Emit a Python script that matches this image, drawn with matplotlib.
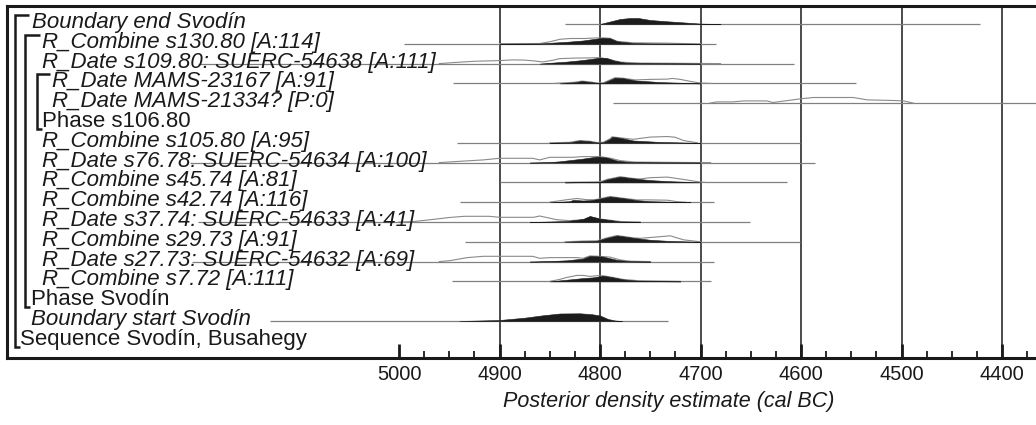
import matplotlib
matplotlib.use('Agg')
import matplotlib.pyplot as plt
import numpy as np

plt.rcParams['font.family'] = ['Liberation Sans', 'DejaVu Sans']

# ---------------- data ----------------
labels = [
    'Boundary end Svodín',
    'R_Combine s130.80 [A:114]',
    'R_Date s109.80: SUERC-54638 [A:111]',
    'R_Date MAMS-23167 [A:91]',
    'R_Date MAMS-21334? [P:0]',
    'Phase s106.80',
    'R_Combine s105.80 [A:95]',
    'R_Date s76.78: SUERC-54634 [A:100]',
    'R_Combine s45.74 [A:81]',
    'R_Combine s42.74 [A:116]',
    'R_Date s37.74: SUERC-54633 [A:41]',
    'R_Combine s29.73 [A:91]',
    'R_Date s27.73: SUERC-54632 [A:69]',
    'R_Combine s7.72 [A:111]',
    'Phase Svodín',
    'Boundary start Svodín',
    'Sequence Svodín, Busahegy',
]
label_italic = [True, True, True, True, True, False, True, True, True, True,
                True, True, True, True, False, True, False]
label_indent_px = [32, 42, 42, 52, 52, 42, 42, 42, 42, 42, 42, 42, 42, 42, 31, 31, 20]

# horizontal range lines (cal BC, start, end); None = no distribution
line_ranges = [(4835, 4422), (4995, 4685), (5200, 4607), (4946, 4545), (4787, 4300),
               None, (4942, 4601), (5208, 4586), (4900, 4614), (4939, 4687),
               (5200, 4651), (4934, 4601), (5206, 4687), (4947, 4690), None,
               (5128, 4732), None]

# posterior (filled) curves: (cal BC, height in px)
end_svodin_post = [(4800, 0), (4790, 2.5), (4780, 5), (4770, 6), (4762, 6), (4750, 4),
                   (4733, 2.7), (4717, 1.6), (4700, 0.4), (4680, 0)]
s130_post = [(4900, 0), (4860, 0.3), (4850, 1), (4833, 2), (4817, 3.3), (4805, 5),
             (4797, 6), (4790, 5.5), (4783, 2.5), (4767, 0.8), (4750, 0.4), (4720, 0.2), (4700, 0)]
s130_prior = [(4900, 0.2), (4860, 0.3), (4850, 2), (4840, 4.5), (4830, 5.3), (4815, 5.3),
              (4805, 5.8), (4797, 6), (4790, 5.5), (4783, 2.5), (4767, 1), (4750, 0.8),
              (4735, 0.7), (4720, 0.3), (4700, 0)]
s109_post = [(4860, 0), (4850, 0.8), (4833, 2), (4820, 3.3), (4810, 4.5), (4800, 6),
             (4793, 5.5), (4786, 3), (4775, 1), (4760, 0.4), (4720, 0.2), (4700, 0)]
s109_prior = [(4960, 0), (4946, 1), (4926, 2.3), (4900, 3), (4887, 3.7), (4875, 3.5),
              (4866, 2.7), (4857, 1.7), (4847, 3.3), (4840, 5), (4825, 5.5), (4810, 5.7),
              (4800, 6), (4790, 4), (4780, 1.5), (4760, 0.5), (4720, 0.3), (4680, 0)]
m23167_post = [(4840, 0), (4825, 1.2), (4818, 2.3), (4810, 1.5), (4802, 0.3), (4797, 0.5),
               (4790, 3.5), (4785, 5.7), (4777, 5.2), (4765, 3), (4740, 1.3), (4715, 0.5), (4700, 0)]
m23167_prior = [(4845, 0), (4825, 1.2), (4818, 2.3), (4810, 1.5), (4802, 0.3), (4797, 0.5),
                (4790, 3.5), (4785, 5.7), (4777, 5.2), (4765, 3.5), (4750, 4), (4733, 4.3),
                (4728, 5), (4720, 4), (4710, 2), (4700, 0.3), (4690, 0)]
m21334_prior = [(4691, 0), (4684, 1.3), (4668, 1.3), (4657, 2.3), (4634, 2.3), (4628, 0.7),
                (4601, 4.3), (4588, 5.7), (4548, 5.7), (4534, 3.3), (4508, 2.7), (4498, 2.3),
                (4488, 0)]
s105_post = [(4850, 0), (4830, 0.5), (4820, 2.3), (4810, 1.5), (4803, 0.3), (4797, 0.5),
             (4790, 4), (4788, 6), (4780, 5), (4767, 2.3), (4743, 1), (4717, 0.3), (4700, 0)]
s105_prior = [(4850, 0), (4830, 0.5), (4820, 2.3), (4810, 1.5), (4803, 0.3), (4797, 0.5),
              (4790, 4), (4788, 6), (4780, 5), (4767, 3.5), (4750, 5.7), (4733, 6.3),
              (4725, 5.5), (4717, 2.3), (4703, 0)]
s76_post = [(4870, 0), (4850, 0.5), (4840, 1.3), (4817, 4), (4803, 6), (4793, 5),
            (4783, 2), (4770, 0.5), (4740, 0.2), (4700, 0)]
s76_prior = [(4960, 0), (4949, 0.7), (4916, 2.7), (4900, 4.3), (4867, 4.3), (4860, 2.7),
             (4850, 5.3), (4827, 5.3), (4817, 6), (4800, 6), (4790, 4.5), (4780, 2),
             (4765, 0.5), (4720, 0.2), (4690, 0)]
s45_post = [(4835, 0), (4800, 0.5), (4793, 3), (4780, 5.7), (4767, 4), (4750, 2.3),
            (4733, 1.3), (4717, 0.7), (4700, 0)]
s45_prior = [(4835, 0), (4800, 0.5), (4793, 3), (4780, 5.7), (4767, 4), (4760, 3.5),
             (4750, 4.7), (4733, 5.3), (4717, 3), (4700, 0.3), (4695, 0)]
s42_post = [(4850, 0), (4830, 1), (4827, 2.3), (4817, 1.7), (4810, 2), (4803, 3),
            (4790, 5.7), (4777, 4), (4763, 2), (4750, 1), (4723, 0.3), (4710, 0)]
s42_prior = [(4850, 0), (4833, 2.5), (4823, 3.7), (4813, 2.5), (4805, 2.5), (4790, 5.7),
             (4777, 4), (4763, 2.3), (4750, 2.3), (4733, 2), (4723, 0.5), (4715, 0)]
s37_post = [(4870, 0), (4850, 0.5), (4833, 1), (4817, 3), (4810, 6), (4800, 3.3),
            (4790, 2), (4780, 0.5), (4760, 0)]
s37_prior = [(5000, 0), (4985, 0.5), (4965, 2.7), (4950, 4.5), (4935, 5.7), (4910, 5.7),
             (4900, 4.7), (4866, 4.7), (4860, 6), (4843, 2.3), (4830, 1.3), (4815, 2.5),
             (4810, 5), (4800, 3), (4790, 1.8), (4780, 0.5), (4760, 0)]
s29_post = [(4835, 0), (4817, 0.7), (4803, 1), (4793, 4), (4783, 6.3), (4767, 4),
            (4750, 2), (4733, 1), (4717, 0.5), (4700, 0)]
s29_prior = [(4835, 0), (4817, 0.7), (4803, 1), (4793, 4), (4783, 6.3), (4767, 4),
             (4760, 3.5), (4750, 4.3), (4730, 6), (4717, 2), (4700, 0)]
s27_post = [(4870, 0), (4850, 0.5), (4833, 1.3), (4817, 3), (4810, 5.7), (4803, 5.3),
            (4797, 5), (4783, 1.7), (4770, 0.3), (4750, 0)]
s27_prior = [(4960, 0), (4949, 1), (4932, 4), (4916, 5.3), (4867, 5.3), (4860, 3.3),
             (4850, 4), (4823, 4), (4817, 3.3), (4810, 5.7), (4800, 5.3), (4790, 4.5),
             (4780, 1.7), (4770, 0.4), (4750, 0)]
s7_post = [(4850, 0), (4833, 1.7), (4817, 3.3), (4807, 4), (4797, 5.7), (4787, 4),
           (4777, 2), (4763, 0.7), (4740, 0.2), (4720, 0)]
s7_prior = [(4850, 0), (4840, 2), (4833, 4), (4823, 6), (4817, 6), (4810, 5), (4803, 5.7),
            (4797, 5.7), (4787, 4), (4777, 2), (4763, 0.8), (4740, 0.3), (4720, 0)]
start_svodin_post = [(4940, 0), (4900, 1), (4875, 3.3), (4857, 5.7), (4840, 7.5),
                     (4820, 7.7), (4808, 6.8), (4800, 5.5), (4792, 2), (4785, 0.5), (4778, 0)]

posteriors = {0: end_svodin_post, 1: s130_post, 2: s109_post, 3: m23167_post,
              6: s105_post, 7: s76_post, 8: s45_post, 9: s42_post, 10: s37_post,
              11: s29_post, 12: s27_post, 13: s7_post, 15: start_svodin_post}
priors = {1: s130_prior, 2: s109_prior, 3: m23167_prior, 4: m21334_prior,
          6: s105_prior, 7: s76_prior, 8: s45_prior, 9: s42_prior, 10: s37_prior,
          11: s29_prior, 12: s27_prior, 13: s7_prior}

major_ticks = [5000, 4900, 4800, 4700, 4600, 4500, 4400]
minor_ticks = list(range(5000, 4370, -25))
grid_years = [4900, 4800, 4700, 4600, 4500, 4400]
xlabel = 'Posterior density estimate (cal BC)'

# ---------------- layout ----------------
W, H, DPI = 1036, 425, 100
PX_5000, PX_PER_YEAR = 399.0, 1.005
AX_L, AX_R, AX_T, AX_B = 7, 1046, 6, 358
ROW0, STEP = 24.0, 19.8

fig = plt.figure(figsize=(W / DPI, H / DPI), dpi=DPI)
ax = fig.add_axes([AX_L / W, 1 - AX_B / H, (AX_R - AX_L) / W, (AX_B - AX_T) / H])
ax.set_xlim(5000 + (PX_5000 - AX_L) / PX_PER_YEAR, 5000 - (AX_R - PX_5000) / PX_PER_YEAR)
ax.set_ylim((AX_B - ROW0) / STEP, (AX_T - ROW0) / STEP)

for sp in ['left', 'top', 'bottom']:
    ax.spines[sp].set_linewidth(2.2)
    ax.spines[sp].set_color('#1a1a1a')
ax.spines['right'].set_visible(False)

ax.set_yticks([])
ax.set_xticks(major_ticks)
ax.set_xticks(minor_ticks, minor=True)
ax.set_xticklabels([str(t) for t in major_ticks], fontsize=14.5, color='#222222')
ax.tick_params(axis='x', which='major', direction='in', length=10, width=2, pad=5, colors='#1a1a1a')
ax.tick_params(axis='x', which='minor', direction='in', length=5, width=1.3, colors='#1a1a1a')

for g in grid_years:
    ax.axvline(g, color='#1a1a1a', lw=1.1, zorder=1)

for i, rng in enumerate(line_ranges):
    if rng is None:
        continue
    ax.plot(list(rng), [i, i], color='#808080', lw=0.9, zorder=2, solid_capstyle='butt')

for i, pts in priors.items():
    xs = [p[0] for p in pts]
    ys = [i - p[1] / STEP for p in pts]
    ax.plot(xs, ys, color='#8a8a8a', lw=0.8, zorder=3)

for i, pts in posteriors.items():
    xs = [p[0] for p in pts]
    ys = [i - p[1] / STEP for p in pts]
    ax.fill_between(xs, ys, [i] * len(xs), color='#1c1c1c', lw=0.4, zorder=4)

# overlay for labels and brackets (pixel coordinates)
ov = fig.add_axes([0, 0, 1, 1], zorder=5)
ov.set_xlim(0, W)
ov.set_ylim(H, 0)
ov.axis('off')
ov.patch.set_alpha(0)

def row_y(i):
    return ROW0 + i * STEP

for i, (lab, it, xi) in enumerate(zip(labels, label_italic, label_indent_px)):
    ov.text(xi, row_y(i) + 4, lab, fontsize=16, style='italic' if it else 'normal',
            va='baseline', ha='left', color='#1a1a1a')

def bracket(x, r0, r1, xend):
    y0 = row_y(r0) - 9
    y1 = row_y(r1) + 6
    ov.plot([xend, x, x, x + 5], [y0, y0, y1, y1], color='#1a1a1a', lw=1.8,
            solid_joinstyle='miter', solid_capstyle='butt')

bracket(15, 0, 16, 29)
bracket(25, 1, 14, 40)
bracket(37, 3, 5, 50)

ov.text((503 + 835) / 2, 401, xlabel, fontsize=15.5, style='italic', ha='center', va='center',
        color='#1a1a1a')

fig.savefig('out.png', dpi=DPI)
